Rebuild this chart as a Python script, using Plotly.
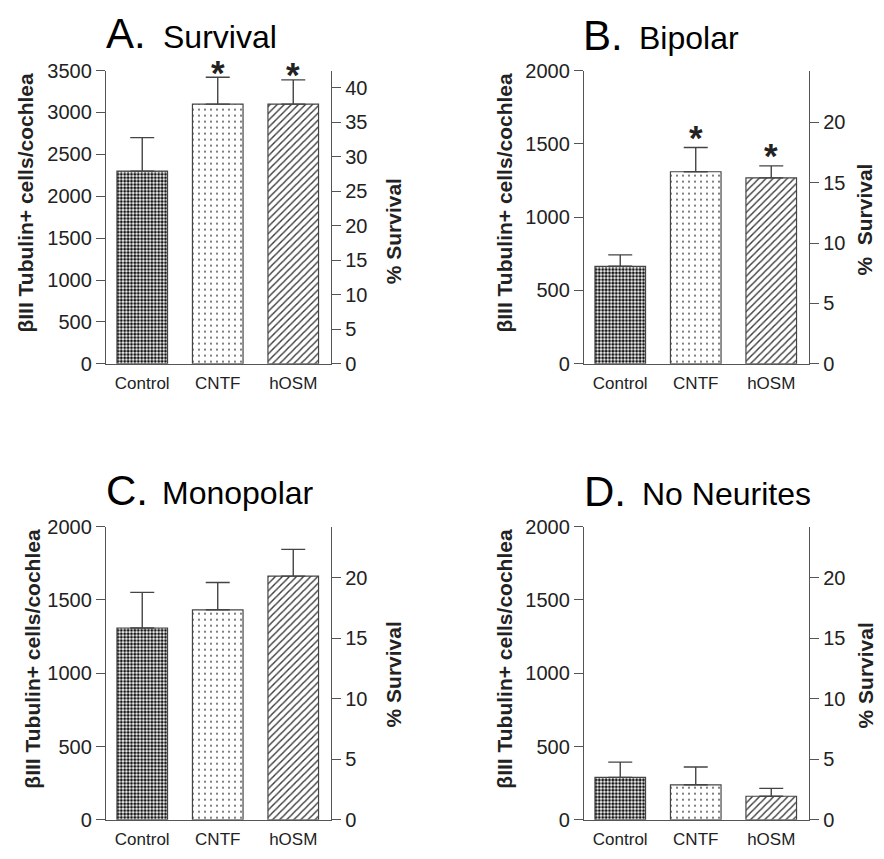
import plotly.graph_objects as go

# page body has an 8px margin; the figure is sized to fill the rest of the window
OFF = 8
W, H = 884 - 2 * OFF, 859 - 2 * OFF
FONT = "Liberation Sans, Arial, sans-serif"

categories = ["Control", "CNTF", "hOSM"]

# Panel data: mean cell counts and upper SEM
survival_mean = [2300, 3100, 3100]
survival_sem = [400, 320, 290]
survival_sig = [False, True, True]

bipolar_mean = [665, 1310, 1268]
bipolar_sem = [78, 165, 82]
bipolar_sig = [False, True, True]

monopolar_mean = [1309, 1433, 1663]
monopolar_sem = [243, 186, 182]
monopolar_sig = [False, False, False]

noneurite_mean = [290, 239, 161]
noneurite_sem = [104, 122, 54]
noneurite_sig = [False, False, False]

left_tick_A = [0, 500, 1000, 1500, 2000, 2500, 3000, 3500]
right_tick_A = [0, 5, 10, 15, 20, 25, 30, 35, 40]
left_tick_other = [0, 500, 1000, 1500, 2000]
right_tick_other = [0, 5, 10, 15, 20]

NB = "\u00a0"
panels = [
    dict(letter="A.", name="Survival", mean=survival_mean, sem=survival_sem, sig=survival_sig,
         x0=106, x1=331, ytop=61, ybot=362, lmax=3500, rmax=42.5,
         lticks=left_tick_A, rticks=right_tick_A,
         letter_x=104, name_x=161, title_y=23, rtitle="% Survival", ytitle_x=26, rtitle_x=393,
         rtitle_y=226, star_shift=5),
    dict(letter="B.", name="Bipolar", mean=bipolar_mean, sem=bipolar_sem, sig=bipolar_sig,
         x0=584, x1=809, ytop=61, ybot=362, lmax=2000, rmax=24.3,
         lticks=left_tick_other, rticks=right_tick_other,
         letter_x=581, name_x=637, title_y=25, rtitle="%" + NB + NB + "Survival",
         ytitle_x=505, rtitle_x=865, rtitle_y=214, star_shift=10),
    dict(letter="C.", name="Monopolar", mean=monopolar_mean, sem=monopolar_sem, sig=monopolar_sig,
         x0=106, x1=331, ytop=529.3, ybot=830.3, lmax=2000, rmax=24.2,
         lticks=left_tick_other, rticks=right_tick_other,
         letter_x=104, name_x=160, title_y=492, rtitle="% Survival", ytitle_x=33, rtitle_x=393,
         rtitle_y=681, star_shift=10),
    dict(letter="D.", name="No Neurites", mean=noneurite_mean, sem=noneurite_sem, sig=noneurite_sig,
         x0=584, x1=809, ytop=529.3, ybot=830.3, lmax=2000, rmax=24.2,
         lticks=left_tick_other, rticks=right_tick_other,
         letter_x=582, name_x=640, title_y=493, rtitle="% Survival", ytitle_x=505, rtitle_x=865,
         rtitle_y=682, star_shift=10),
]

pat_shape = [".", ".", "/"]
pat_size = [3.4, 6, 5]
pat_solid = [0.58, 0.07, 0.28]
pat_fg = ["#151515", "#444444", "#3a3a3a"]

fig = go.Figure()
layout = {}
annotations = []


def px(x):
    return (x - OFF) / W


def py(y):
    return 1 - (y - OFF) / H


for i, p in enumerate(panels):
    n = i + 1
    xk = "x" if n == 1 else f"x{n}"
    yl = 2 * i + 1
    yr = 2 * i + 2
    ylk = "y" if yl == 1 else f"y{yl}"
    yrk = f"y{yr}"

    fig.add_trace(go.Bar(
        x=categories, y=p["mean"], xaxis=xk, yaxis=ylk, width=0.67,
        marker=dict(color="white",
                    line=dict(color="#444444", width=1.2),
                    pattern=dict(shape=pat_shape, size=pat_size, solidity=pat_solid,
                                 fgcolor=pat_fg, bgcolor="white", fillmode="replace")),
        error_y=dict(type="data", symmetric=False, array=p["sem"], arrayminus=[0] * 3,
                     width=12, thickness=1.4, color="#444444"),
        showlegend=False, hoverinfo="skip",
    ))
    # invisible trace to activate the right (% survival) axis
    fig.add_trace(go.Scatter(x=[categories[0]], y=[0], xaxis=xk, yaxis=yrk, mode="markers",
                             marker=dict(opacity=0), showlegend=False, hoverinfo="skip"))

    xname = "xaxis" if n == 1 else f"xaxis{n}"
    ylname = "yaxis" if yl == 1 else f"yaxis{yl}"
    yrname = f"yaxis{yr}"
    layout[xname] = dict(domain=[px(p["x0"]), px(p["x1"])], anchor=ylk, range=[-0.48, 2.5],
                         showline=True, linecolor="#555555", linewidth=1.3,
                         ticks="outside", ticklen=4, tickcolor="rgba(0,0,0,0)",
                         showgrid=False, zeroline=False,
                         tickfont=dict(family=FONT, size=17, color="#222222"))
    layout[ylname] = dict(domain=[py(p["ybot"]), py(p["ytop"])], anchor=xk,
                          range=[0, p["lmax"]], tickvals=p["lticks"],
                          showline=True, linecolor="#555555", linewidth=1.3,
                          ticks="outside", ticklen=9, tickcolor="#555555", tickwidth=1.3,
                          showgrid=False, zeroline=False,
                          tickfont=dict(family=FONT, size=20, color="#222222"))
    layout[yrname] = dict(overlaying=ylk, side="right", anchor=xk,
                          range=[0, p["rmax"]], tickvals=p["rticks"],
                          showline=True, linecolor="#555555", linewidth=1.3,
                          ticks="outside", ticklen=9, tickcolor="#555555", tickwidth=1.3,
                          showgrid=False, zeroline=False,
                          tickfont=dict(family=FONT, size=20, color="#222222"))

    # panel titles
    annotations.append(dict(text=p["letter"], x=px(p["letter_x"]), y=py(p["title_y"]),
                            xref="paper", yref="paper", xanchor="left", yanchor="middle",
                            showarrow=False, font=dict(family=FONT, size=42, color="black")))
    annotations.append(dict(text=p["name"], x=px(p["name_x"]), y=py(p["title_y"] + 3),
                            xref="paper", yref="paper", xanchor="left", yanchor="middle",
                            showarrow=False, font=dict(family=FONT, size=32, color="black")))
    # axis titles
    annotations.append(dict(text="<b>βIII Tubulin+ cells/cochlea</b>", x=px(p["ytitle_x"]),
                            y=py((p["ytop"] + p["ybot"]) / 2 - 15),
                            xref="paper", yref="paper", xanchor="center", yanchor="middle",
                            textangle=-90, showarrow=False,
                            font=dict(family=FONT, size=21, color="#222222")))
    annotations.append(dict(text="<b>" + p["rtitle"] + "</b>", x=px(p["rtitle_x"]),
                            y=py(p["rtitle_y"]),
                            xref="paper", yref="paper", xanchor="center", yanchor="middle",
                            textangle=-90, showarrow=False,
                            font=dict(family=FONT, size=21, color="#222222")))
    # significance asterisks
    for c, m, s, g in zip(categories, p["mean"], p["sem"], p["sig"]):
        if g:
            annotations.append(dict(text="<b>*</b>", x=c, y=m + s, xref=xk, yref=ylk,
                                    xanchor="center", yanchor="middle", yshift=p["star_shift"],
                                    showarrow=False,
                                    font=dict(family=FONT, size=35, color="#222222")))

fig.update_layout(
    width=W, height=H, margin=dict(l=0, r=0, t=0, b=0),
    paper_bgcolor="white", plot_bgcolor="white",
    annotations=annotations, showlegend=False,
    **layout,
)

fig.write_html("out.html")
